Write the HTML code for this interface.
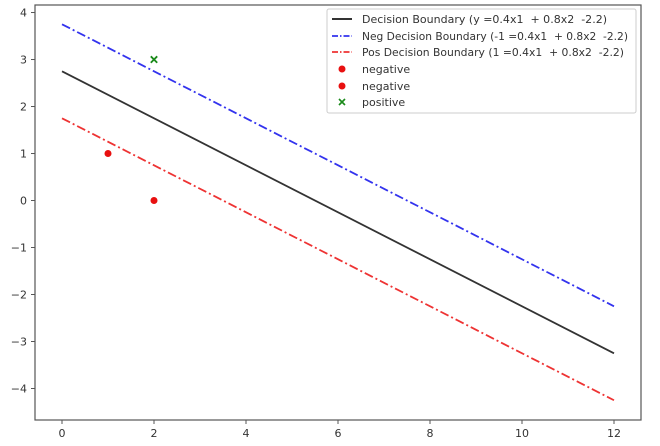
<!DOCTYPE html>
<html><head><meta charset="utf-8"><style>
html,body{margin:0;padding:0;background:#fff;width:660px;height:446px;overflow:hidden}
svg text{font-family:"DejaVu Sans","Liberation Sans",sans-serif;fill:#333;white-space:pre}
</style></head><body>
<svg id="chart" width="660" height="446" xmlns="http://www.w3.org/2000/svg">
<rect x="35" y="5" width="606" height="415" fill="#fff" stroke="#555" stroke-width="1.2"/>
<g id="xticks"></g><g id="yticks"></g><g id="series"></g>
<g>
<rect x="327" y="9" width="309" height="104" fill="#fff" stroke="#ccc" rx="2"/>
<line x1="332" y1="19" x2="352" y2="19" stroke="#333" stroke-width="2"/>
<text x="362" y="23" font-size="11" textLength="245" lengthAdjust="spacingAndGlyphs">Decision Boundary (y =0.4x1  + 0.8x2  -2.2)</text>
<line x1="332" y1="36" x2="352" y2="36" stroke="#3333ee" stroke-width="1.8" stroke-dasharray="6,2,1.5,2"/>
<text x="362" y="40" font-size="11" textLength="266" lengthAdjust="spacingAndGlyphs">Neg Decision Boundary (-1 =0.4x1  + 0.8x2  -2.2)</text>
<line x1="332" y1="52" x2="352" y2="52" stroke="#ee3333" stroke-width="1.8" stroke-dasharray="6,2,1.5,2"/>
<text x="362" y="56" font-size="11" textLength="262" lengthAdjust="spacingAndGlyphs">Pos Decision Boundary (1 =0.4x1  + 0.8x2  -2.2)</text>
<circle cx="342" cy="69" r="3.5" fill="#e81010"/>
<text x="362" y="73" font-size="11">negative</text>
<circle cx="342" cy="86" r="3.5" fill="#e81010"/>
<text x="362" y="90" font-size="11">negative</text>
<path d="M339,99L345,105M339,105L345,99" stroke="#1a8a1a" stroke-width="1.6"/>
<text x="362" y="106" font-size="11">positive</text>
</g>
</svg>
<script>
const xTicks=[0,2,4,6,8,10,12];
const yTicks=[4,3,2,1,0,-1,-2,-3,-4];
const lineX=[0,12];
const boundaryY=[2.75,-3.25];
const negBoundaryY=[3.75,-2.25];
const posBoundaryY=[1.75,-4.25];
const negX=[1,2];
const negY=[1,0];
const posX=[2];
const posY=[3];
const X0=-0.587,X1=12.587,Y0=-4.67,Y1=4.16;
const L=35,R=641,T=5,B=420;
const sx=v=>L+(v-X0)/(X1-X0)*(R-L);
const sy=v=>B-(v-Y0)/(Y1-Y0)*(B-T);
const NS="http://www.w3.org/2000/svg";
function mk(t,a,p){const e=document.createElementNS(NS,t);for(const k in a)e.setAttribute(k,a[k]);p.appendChild(e);return e;}
const gx=document.getElementById('xticks'),gy=document.getElementById('yticks'),gs=document.getElementById('series');
xTicks.forEach(v=>{
 const l=mk('line',{x1:sx(v),x2:sx(v),y1:B,y2:B+4,stroke:'#555'},gx);
 
 
 const t=mk('text',{x:sx(v),y:B+17,'font-size':11,'text-anchor':'middle'},gx);t.textContent=v;
 
 
});
yTicks.forEach(v=>{
 const l=mk('line',{x1:L-4,x2:L,y1:sy(v),y2:sy(v),stroke:'#555'},gy);
 
 
 const t=mk('text',{x:L-8,y:sy(v)+4,'font-size':11,'text-anchor':'end'},gy);t.textContent=v<0?'\u2212'+(-v):v;
 
 
});
function ln(ys,col,dash,name){
 const a={x1:sx(lineX[0]),y1:sy(ys[0]),x2:sx(lineX[1]),y2:sy(ys[1]),stroke:col,'stroke-width':1.8};
 if(dash)a['stroke-dasharray']=dash;
 const e=mk('line',a,gs);
 
 
}
ln(boundaryY,'#333',null,'decision-boundary-line');
ln(negBoundaryY,'#3333ee','9,3,2,3','neg-decision-boundary-line');
ln(posBoundaryY,'#ee3333','9,3,2,3','pos-decision-boundary-line');
negX.forEach((v,i)=>{
 const c=mk('circle',{cx:sx(v),cy:sy(negY[i]),r:3.5,fill:'#e81010'},gs);
 
 
});
posX.forEach((v,i)=>{
 const x=sx(v),y=sy(posY[i]),d=3.2;
 const p=mk('path',{d:`M${x-d},${y-d}L${x+d},${y+d}M${x-d},${y+d}L${x+d},${y-d}`,stroke:'#1a8a1a','stroke-width':1.8},gs);
 
 
});
</script>
</body></html>
